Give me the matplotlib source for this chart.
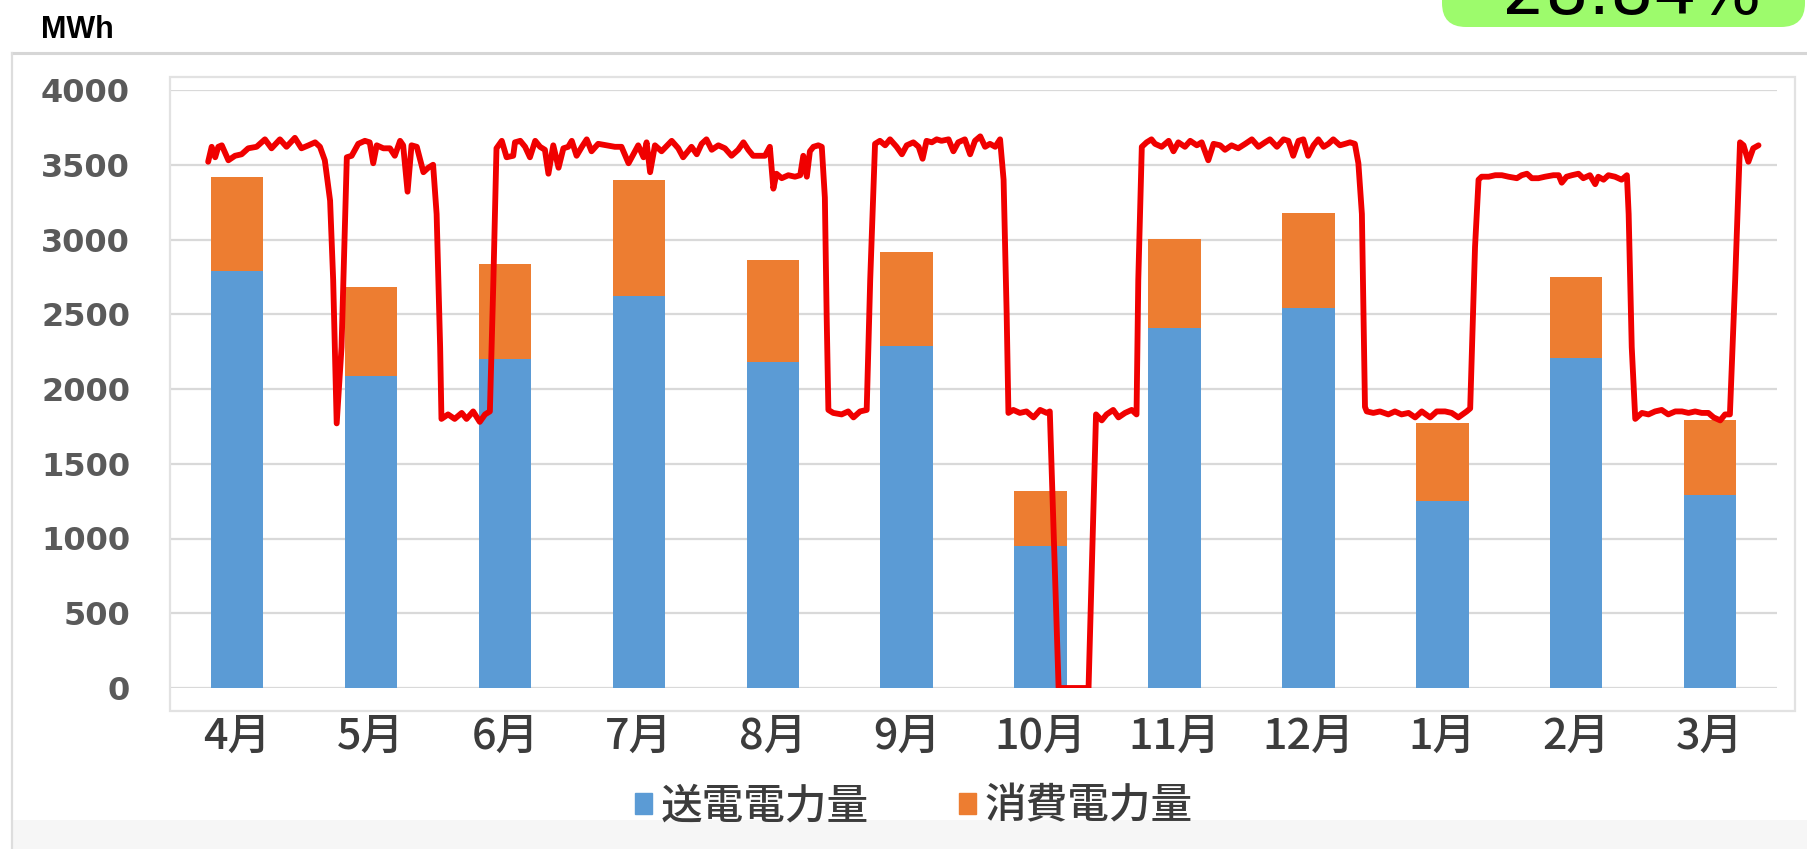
import numpy as np
import matplotlib
matplotlib.use("Agg")
import matplotlib.pyplot as plt
from matplotlib.patches import Rectangle, FancyBboxPatch
from matplotlib.lines import Line2D
from matplotlib.transforms import IdentityTransform

plt.rcParams["font.family"] = ["Noto Sans CJK JP", "DejaVu Sans"]

# ---- data -------------------------------------------------------------
months = ["4月", "5月", "6月", "7月", "8月", "9月",
          "10月", "11月", "12月", "1月", "2月", "3月"]
sent_mwh = [2790, 2090, 2200, 2620, 2180, 2290, 950, 2410, 2545, 1250, 2205, 1290]
consumed_mwh = [625, 590, 635, 775, 685, 625, 370, 595, 635, 525, 545, 500]
y_ticks = [0, 500, 1000, 1500, 2000, 2500, 3000, 3500, 4000]
legend_labels = ["送電電力量", "消費電力量"]
unit_label = "MWh"
ratio_label = "28.84%"

# daily output trace: day counted from the start of April
line_day = [
    8.6, 9.4, 10.2, 10.9, 11.7, 13.2, 14.7, 16.2, 17.7, 19.6, 21.5, 23.0,
    24.9, 26.4, 28.3, 29.8, 31.4, 32.9, 34.0, 35.1, 36.3, 37.0, 37.8, 38.9,
    40.1, 41.2, 42.7, 44.2, 45.3, 46.1, 46.9, 48.4, 49.9, 51.0, 52.2, 52.9,
    53.9, 54.8, 56.0, 57.5, 58.6, 59.7, 60.5, 61.3, 61.6, 63.1, 64.6, 66.2,
    67.3, 68.8, 70.3, 71.5, 72.6, 73.4, 74.1, 75.3, 76.4, 77.9,
    78.3, 79.5, 80.6, 81.7, 82.9, 84.0, 85.1, 85.9, 87.0, 88.2, 89.3, 90.4,
    91.2, 92.3, 93.5, 94.6, 95.7, 97.2, 99.1, 101.0, 102.5, 104.1, 105.2,
    106.3, 107.5, 108.2, 109.0, 110.1, 111.6, 113.9, 115.4, 116.5, 118.4,
    119.6, 120.7, 121.8, 123.0, 124.5, 126.0, 127.5, 129.0, 130.2, 131.3,
    132.4, 134.0, 135.1, 136.2, 137.0, 137.7, 138.9, 140.4, 141.9, 143.1,
    143.8, 144.6, 145.3, 146.1, 147.2, 148.0, 148.7, 149.1, 149.5, 150.6,
    152.5, 154.0, 155.2, 156.7, 158.2, 159.0, 160.1, 161.2, 162.4, 163.5,
    165.0, 166.2, 167.3, 168.8, 170.0, 170.9, 171.8, 173.0, 174.1, 175.2,
    176.8, 177.9, 179.0, 180.5, 181.7, 182.8, 184.0, 185.1, 186.2, 187.4,
    188.5, 189.3, 190.0, 190.4, 191.5, 193.0, 194.5, 196.1, 197.6, 199.1,
    199.8, 201.8, 208.6, 210.3, 211.6, 212.7, 214.2, 215.4, 216.9, 218.4,
    219.5, 219.9, 220.7, 221.8, 222.9,
    223.7, 225.2, 226.8, 227.9, 229.0, 230.5, 231.7, 233.2, 234.3, 235.8,
    237.0, 238.5, 239.6, 241.1, 242.6, 244.2, 245.7, 247.2, 248.7, 249.8,
    251.4, 252.9, 254.0, 255.1, 256.3, 257.4, 258.5, 259.7, 260.8, 262.0,
    263.1, 264.2, 265.7, 266.9, 268.0, 269.1, 269.9, 270.7, 271.4, 271.8,
    273.3, 274.8, 276.7, 278.2, 279.7, 281.3, 282.8, 284.3, 286.2, 287.7,
    289.6, 291.1, 292.6, 294.5, 295.3, 296.4,
    297.2, 297.9, 299.5, 301.0, 302.5, 304.0, 305.9, 307.0, 308.2, 309.3,
    310.8, 312.3, 314.2, 315.4, 316.1, 317.2, 318.4, 319.9, 321.0, 322.5,
    323.7, 324.4, 325.6, 326.7, 328.2, 329.7, 330.9, 331.3, 332.0, 332.8,
    334.3, 335.8, 337.3, 338.8, 340.3, 341.9, 343.4, 344.9, 346.4, 347.9,
    349.4, 350.6, 352.1, 353.2, 354.3, 355.5, 356.6, 357.4, 358.5, 359.6,
    360.8,
]
line_mwh = [
    3520, 3620, 3550, 3620, 3630, 3530, 3560, 3570, 3610, 3620, 3670, 3610,
    3670, 3620, 3680, 3610, 3630, 3650, 3620, 3530, 3260, 2730, 1770, 2280,
    3550, 3560, 3640, 3660, 3650, 3510, 3630, 3610, 3610, 3560, 3660, 3630,
    3320, 3630, 3620, 3450, 3480, 3500, 3170, 2280, 1800, 1830, 1800, 1840,
    1800, 1850, 1780, 1830, 1850, 2730, 3610, 3660, 3550, 3560,
    3650, 3660, 3620, 3550, 3660, 3620, 3600, 3440, 3630, 3480, 3610, 3620,
    3660, 3560, 3620, 3670, 3590, 3640, 3630, 3620, 3620, 3510, 3570,
    3630, 3550, 3650, 3450, 3630, 3590, 3660, 3610, 3550, 3620,
    3570, 3640, 3670, 3600, 3630, 3610, 3560, 3600, 3650, 3600,
    3560, 3560, 3560, 3620, 3340, 3440, 3410, 3430, 3420, 3430,
    3560, 3420, 3590, 3620, 3630, 3620, 3280, 2500, 1860, 1840,
    1830, 1850, 1810, 1850, 1860, 2730, 3640, 3660, 3630, 3670,
    3620, 3570, 3630, 3650, 3620, 3540, 3660, 3650, 3670, 3660,
    3670, 3590, 3650, 3670, 3570, 3660, 3690, 3620, 3640, 3620,
    3670, 3400, 2500, 1840, 1860, 1840, 1850, 1810, 1860, 1840,
    1850, 0, 0, 1830, 1790, 1830, 1860, 1810, 1840, 1860,
    1830, 2730, 3620, 3650, 3670,
    3640, 3620, 3660, 3590, 3650, 3620, 3660, 3630, 3650, 3530,
    3640, 3630, 3600, 3630, 3610, 3640, 3670, 3620, 3650, 3670,
    3620, 3670, 3660, 3560, 3660, 3670, 3560, 3630, 3670, 3620,
    3640, 3670, 3630, 3640, 3650, 3640, 3510, 3170, 1880, 1850,
    1840, 1850, 1830, 1850, 1830, 1840, 1810, 1850, 1810, 1850,
    1850, 1840, 1810, 1850, 1870, 2950,
    3400, 3420, 3420, 3430, 3430, 3420, 3410, 3430, 3440, 3410,
    3410, 3420, 3430, 3430, 3380, 3420, 3430, 3440, 3410, 3430,
    3370, 3420, 3400, 3430, 3420, 3400, 3430, 3170, 2280, 1800,
    1840, 1830, 1850, 1860, 1830, 1850, 1850, 1840, 1850, 1840,
    1840, 1810, 1790, 1830, 1830, 2730, 3650, 3630, 3520, 3610,
    3630,
]

# ---- figure -----------------------------------------------------------
W, H = 1807, 849
fig = plt.figure(figsize=(W / 100, H / 100), dpi=100)
fig.patch.set_facecolor("white")


def fx(px):
    return px / W


def fy(py):
    return 1 - py / H


# page background and frames
fig.add_artist(Rectangle((fx(12), 0), 1 - fx(12), fy(820), transform=fig.transFigure,
                         facecolor="#f6f6f6", edgecolor="none", zorder=0))
fig.add_artist(Line2D([fx(12), 1], [fy(53), fy(53)], transform=fig.transFigure,
                      color="#d6d6d6", lw=2.2, zorder=1))
fig.add_artist(Line2D([fx(12), fx(12)], [fy(53), 0], transform=fig.transFigure,
                      color="#dddddd", lw=1.6, zorder=1))
fig.add_artist(Rectangle((fx(170), fy(711)), fx(1795) - fx(170), fy(77) - fy(711),
                         transform=fig.transFigure, fill=False,
                         edgecolor="#e2e2e2", lw=1.6, zorder=1))

# ---- chart ------------------------------------------------------------
ax = fig.add_axes([fx(170.3), fy(688), fx(1777) - fx(170.3), fy(90) - fy(688)])
ax.set_facecolor("none")
x = np.arange(len(months))
bar_w = 0.392
ax.bar(x, sent_mwh, width=bar_w, color="#5b9bd5", zorder=2)
ax.bar(x, consumed_mwh, bottom=sent_mwh, width=bar_w, color="#ed7d31", zorder=2)

line_x = np.array(line_day) / (365 / 12) - 0.5
ax.plot(line_x, line_mwh, color="#f00000", lw=4.2, zorder=4,
        solid_joinstyle="round", solid_capstyle="round")

ax.set_xlim(-0.5, 11.5)
ax.set_ylim(0, 4000)
ax.set_yticks(y_ticks)
ax.yaxis.grid(True, color="#d9d9d9", lw=1.6)
ax.set_axisbelow(True)
for s in ax.spines.values():
    s.set_visible(False)
ax.tick_params(axis="both", length=0)
ax.tick_params(axis="y", pad=29, labelsize=23, labelcolor="#5a5a5a")
for t in ax.get_yticklabels():
    t.set_fontweight("bold")
    t.set_family("DejaVu Sans")
ax.set_xticks(x, months)
ax.tick_params(axis="x", pad=19, labelsize=31, labelcolor="#3c3c3c")
for t in ax.get_xticklabels():
    t.set_fontweight("medium")

handles = [Rectangle((0, 0), 1, 1, color="#5b9bd5"),
           Rectangle((0, 0), 1, 1, color="#ed7d31")]
fig.legend(handles, legend_labels, loc="center", bbox_to_anchor=(fx(914), fy(806)),
           ncol=2, frameon=False, handlelength=0.4, handleheight=0.4,
           handletextpad=0.22, columnspacing=2.16, labelcolor="#3c3c3c",
           prop={"size": 30, "weight": "medium"})

# unit label
fig.text(fx(41), fy(38), unit_label, ha="left", va="baseline", fontsize=22,
         family=["Liberation Sans", "DejaVu Sans"], weight="bold", color="black")

# ratio badge
fig.add_artist(FancyBboxPatch((1442, H - 27), 363, 80,
                              boxstyle="round,pad=0,rounding_size=24",
                              transform=IdentityTransform(),
                              facecolor="#9dfb6c", edgecolor="none", zorder=2))
fig.text(1502, H - 14, ratio_label, transform=IdentityTransform(), ha="left",
         va="baseline", fontsize=49, family="DejaVu Sans", color="black", zorder=3)

fig.savefig("out.png", dpi=100, facecolor="white")
